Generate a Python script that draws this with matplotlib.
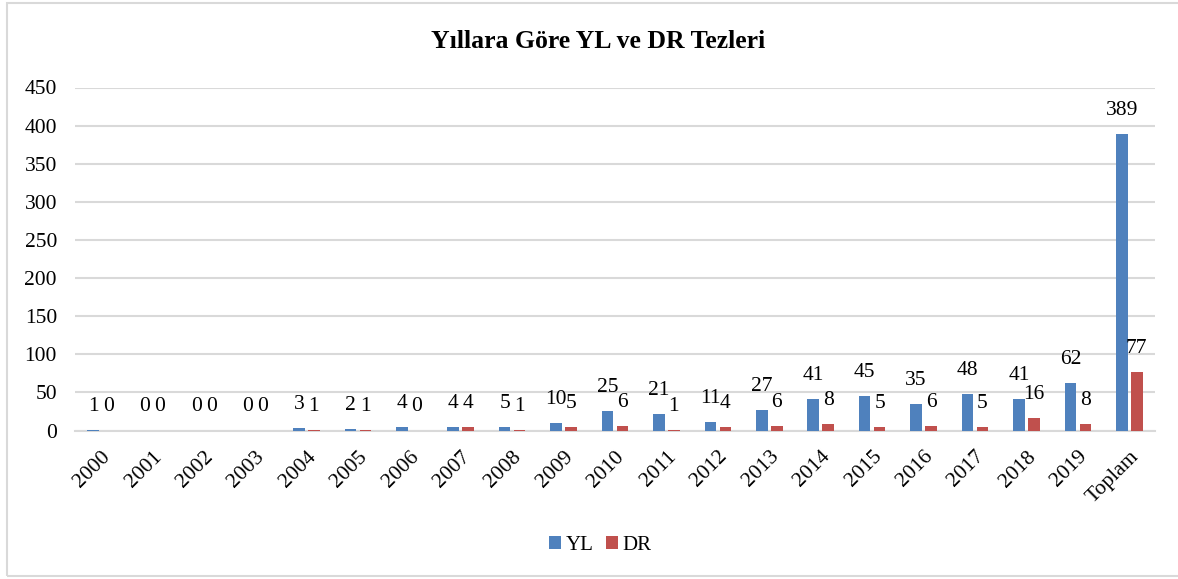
import numpy as np
import matplotlib
matplotlib.use('Agg')
import matplotlib.pyplot as plt
import matplotlib.patches as mpatches

plt.rcParams['font.family'] = ['Liberation Serif', 'DejaVu Serif']

years = ['2000', '2001', '2002', '2003', '2004', '2005', '2006', '2007', '2008', '2009',
         '2010', '2011', '2012', '2013', '2014', '2015', '2016', '2017', '2018', '2019', 'Toplam']
yl = [1, 0, 0, 0, 3, 2, 4, 4, 5, 10, 25, 21, 11, 27, 41, 45, 35, 48, 41, 62, 389]
dr = [0, 0, 0, 0, 1, 1, 0, 4, 1, 5, 6, 1, 4, 6, 8, 5, 6, 5, 16, 8, 77]

BLUE = '#4F81BD'
RED = '#C0504D'
GRID = '#D9D9D9'


def main():
    fig = plt.figure(figsize=(11.78, 5.79), dpi=100)
    fig.patch.set_facecolor('white')

    # outer chart border
    fig.patches.append(mpatches.Rectangle((7 / 1178, 3 / 579), 1.0, 573 / 579,
                                          transform=fig.transFigure, fill=False,
                                          edgecolor=GRID, linewidth=1.5))

    ax = fig.add_axes([75 / 1178, 1 - 430.5 / 579, 1080 / 1178, 343 / 579])
    x = np.arange(len(years))
    w = 0.224
    off = 0.146
    b1 = ax.bar(x - off, yl, w, color=BLUE, label='YL', zorder=3)
    b2 = ax.bar(x + off, dr, w, color=RED, label='DR', zorder=3)

    for bars in (b1, b2):
        for rect in bars:
            h = rect.get_height()
            ax.annotate('%d' % h, (rect.get_x() + rect.get_width() / 2, h),
                        xytext=(0, 17), textcoords='offset points',
                        ha='center', va='center', fontsize=15.5)

    ax.set_xlim(-0.5, len(years) - 0.5)
    ax.set_ylim(0, 450)
    ax.set_yticks(range(0, 451, 50))
    ax.yaxis.grid(True, color=GRID, linewidth=1.5, zorder=0)
    ax.set_axisbelow(True)
    for s in ['top', 'right', 'left']:
        ax.spines[s].set_visible(False)
    ax.spines['bottom'].set_color(GRID)
    ax.spines['bottom'].set_linewidth(1.5)
    ax.tick_params(length=0, labelsize=15.5)
    ax.tick_params(axis='y', pad=13)
    ax.set_xticks(x)
    ax.set_xticklabels(years, rotation=45, ha='right', rotation_mode='anchor', fontsize=15.5)
    ax.tick_params(axis='x', pad=12)

    fig.text(598 / 1178, 1 - 42 / 579, 'Yıllara Göre YL ve DR Tezleri', ha='center', va='center',
             fontsize=18.5, fontweight='bold')

    fig.legend(handles=[b1, b2], labels=['YL', 'DR'], loc='center',
               bbox_to_anchor=(600 / 1178, 1 - 545 / 579), ncol=2, frameon=False,
               fontsize=15, handlelength=0.6, handleheight=0.6, handletextpad=0.2,
               columnspacing=0.6)

    plt.savefig('out.png', dpi=100)


if __name__ == '__main__':
    main()
